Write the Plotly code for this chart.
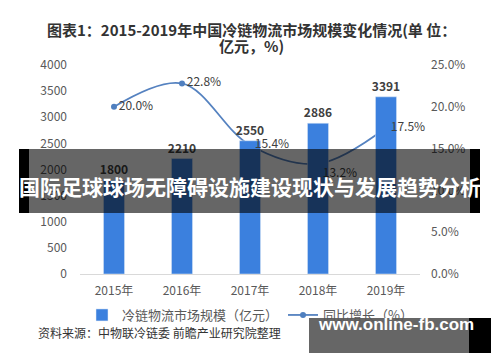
import plotly.graph_objects as go

years = ["2015年", "2016年", "2017年", "2018年", "2019年"]
market_size = [1800, 2210, 2550, 2886, 3391]
growth = [20.0, 22.8, 15.4, 13.2, 17.5]
left_ticks = [0, 500, 1000, 1500, 2000, 2500, 3000, 3500, 4000]
right_ticks = [0, 5, 10, 15, 20, 25]

FONT = "Noto Sans CJK SC"
L, R, T, B = 80, 80, 65, 88
W, H = 500, 362
PW, PH = W - L - R, H - T - B


def px(x):
    return (x - L) / PW


def py(y):
    return (H - B - y) / PH


fig = go.Figure()
# bars live on an overlaying axis so they are drawn above the line (as in the reference)
fig.add_trace(go.Bar(
    x=years, y=market_size, name="冷链物流市场规模（亿元）", yaxis="y2",
    marker_color="#3b80de", width=0.31,
    text=[f"<b>{v}</b>" for v in market_size], textposition="outside",
    textfont=dict(size=12, color="#404040", family=FONT),
    constraintext="none", cliponaxis=False,
))
fig.add_trace(go.Scatter(
    x=years, y=growth, name="同比增长（%）", yaxis="y",
    mode="lines+markers",
    line=dict(color="#5582c0", width=1.8, shape="spline", smoothing=1.0),
    marker=dict(size=6, color="#4f7fbf"),
    cliponaxis=False,
))
# growth labels on a top axis so they stay visible over the bars
fig.add_trace(go.Scatter(
    x=years, y=growth, yaxis="y3", mode="markers+text", showlegend=False, hoverinfo="skip",
    marker=dict(size=6, opacity=0),
    text=[f"{v:.1f}%" for v in growth],
    textposition=["middle right", "middle right", "middle right", "bottom right", "middle right"],
    textfont=dict(size=12, color="#404040", family=FONT),
    cliponaxis=False,
))

shapes = [
    # central banner
    dict(type="rect", xref="paper", yref="paper", x0=px(19), x1=px(480), y0=py(213), y1=py(149),
         fillcolor="rgba(0,0,0,0.6)", line_width=0, layer="above"),
    dict(type="rect", xref="paper", yref="paper", x0=px(19), x1=px(29), y0=py(213), y1=py(149),
         fillcolor="black", line_width=0, layer="above"),
    dict(type="rect", xref="paper", yref="paper", x0=px(470), x1=px(480), y0=py(213), y1=py(149),
         fillcolor="black", line_width=0, layer="above"),
    # bottom-right banner
    dict(type="rect", xref="paper", yref="paper", x0=px(309), x1=px(469), y0=py(353), y1=py(318),
         fillcolor="rgba(0,0,0,0.6)", line_width=0, layer="above"),
    dict(type="rect", xref="paper", yref="paper", x0=px(469), x1=px(491), y0=py(353), y1=py(318),
         fillcolor="black", line_width=0, layer="above"),
]

annotations = [
    dict(text="<b>图表1：2015-2019年中国冷链物流市场规模变化情况(单 位：</b>", xref="paper", yref="paper",
         x=px(251), y=py(17), showarrow=False, font=dict(size=15, color="#333333", family=FONT)),
    dict(text="<b>亿元，%)</b>", xref="paper", yref="paper",
         x=px(251), y=py(33), showarrow=False, font=dict(size=15, color="#333333", family=FONT)),
    dict(text="资料来源：中物联冷链委 前瞻产业研究院整理", xref="paper", yref="paper",
         x=px(36), y=py(343), xanchor="left", showarrow=False,
         font=dict(size=12, color="#333333", family=FONT)),
    dict(text="<b>国际足球球场无障碍设施建设现状与发展趋势分析</b>", xref="paper", yref="paper",
         x=px(250), y=py(186), showarrow=False, font=dict(size=21, color="white", family=FONT)),
    dict(text="<b>www.online-fb.com</b>", xref="paper", yref="paper",
         x=px(316), y=py(336), xanchor="left", showarrow=False,
         font=dict(size=17, color="white", family="Liberation Sans")),
]

fig.update_layout(
    width=W, height=H, margin=dict(l=L, r=R, t=T, b=B, autoexpand=False),
    paper_bgcolor="white", plot_bgcolor="white",
    font=dict(family=FONT, color="#595959"),
    showlegend=True,
    legend=dict(orientation="h", x=px(82), y=py(315), xanchor="left", yanchor="middle",
                font=dict(size=13, color="#595959", family=FONT), itemwidth=30,
                tracegroupgap=0, bgcolor="rgba(0,0,0,0)"),
    xaxis=dict(showgrid=False, showline=True, linecolor="#d9d9d9", ticks="",
               tickfont=dict(size=12, color="#595959", family=FONT), ticklabelstandoff=6),
    yaxis=dict(range=[0, 25], tickvals=right_ticks, ticktext=[f"{v:.1f}%" for v in right_ticks],
               side="right", showgrid=False, zeroline=False, showline=False,
               ticks="", ticklabelstandoff=10,
               tickfont=dict(size=12, color="#595959", family=FONT)),
    yaxis2=dict(range=[0, 4000], tickvals=left_ticks, overlaying="y", side="left",
                showgrid=False, zeroline=False, showline=False, ticks="", ticklabelstandoff=12,
                tickfont=dict(size=12, color="#595959", family=FONT)),
    yaxis3=dict(range=[0, 25], overlaying="y", side="right", visible=False,
                showgrid=False, zeroline=False),
    shapes=shapes, annotations=annotations,
)

fig.write_html("out.html")
